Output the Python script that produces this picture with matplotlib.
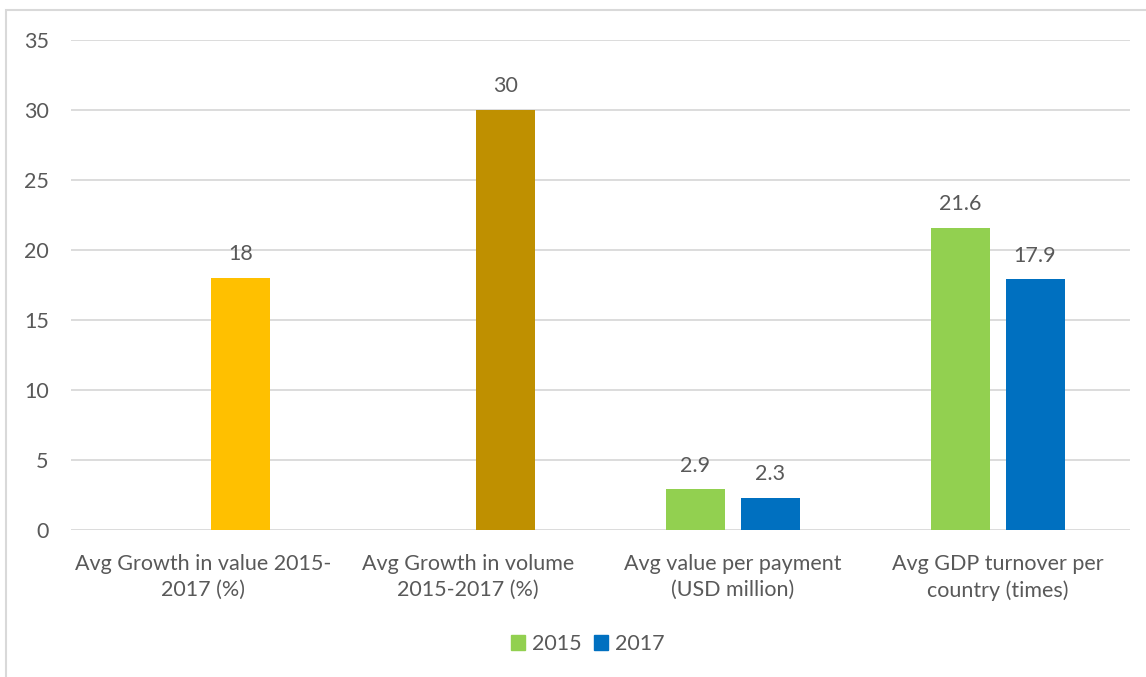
import matplotlib.pyplot as plt
import numpy as np
from matplotlib.patches import Rectangle, Patch

categories = ["Avg Growth in value 2015-\n2017 (%)",
              "Avg Growth in volume\n2015-2017 (%)",
              "Avg value per payment\n(USD million)",
              "Avg GDP turnover per\ncountry (times)"]
vals_2015 = [np.nan, np.nan, 2.9, 21.6]
vals_2017 = [18, 30, 2.3, 17.9]
colors_2017 = ["#FFC000", "#BF9000", "#0070C0", "#0070C0"]
color_2015 = "#92D050"
label_2015 = "2015"
label_2017 = "2017"

txt = "#595959"
grid = "#D9D9D9"
fs = 15.5
plt.rcParams['font.family'] = ['Lato', 'DejaVu Sans']

fig = plt.figure(figsize=(11.46, 6.77), dpi=100)
ax = fig.add_axes([71 / 1146, 147 / 677, (1130 - 71) / 1146, 490 / 677])

x = np.arange(len(categories))
w = 0.223
off = w / 2 + 0.03
b15 = ax.bar(x - off, vals_2015, w, color=color_2015)
b17 = ax.bar(x + off, vals_2017, w, color=colors_2017)

# value labels above the bars
for rects, vals in ((b15, vals_2015), (b17, vals_2017)):
    for r, v in zip(rects, vals):
        if np.isnan(v):
            continue
        ax.annotate(f"{v:g}", (r.get_x() + r.get_width() / 2, v),
                    xytext=(0, 10), textcoords="offset points",
                    ha="center", va="bottom", fontsize=fs, color=txt)

ax.set_xlim(-0.5, len(categories) - 0.5)
ax.set_ylim(0, 35)
ax.set_yticks(range(0, 36, 5))
ax.yaxis.grid(True, color=grid, lw=1.3)
ax.set_axisbelow(True)
for s in ax.spines.values():
    s.set_visible(False)
ax.tick_params(axis="both", length=0, labelsize=fs, labelcolor=txt)
ax.tick_params(axis="y", pad=16)
ax.tick_params(axis="x", pad=17)
ax.set_xticks(x)
ax.set_xticklabels(categories, linespacing=1.4)

handles = [Patch(color=color_2015), Patch(color="#0070C0")]
fig.legend(handles, [label_2015, label_2017], loc="center",
           bbox_to_anchor=(588 / 1146, 1 - 644 / 677), ncol=2, frameon=False,
           fontsize=fs, labelcolor=txt, handlelength=0.65, handleheight=0.65,
           handletextpad=0.3, columnspacing=0.6)

# chart border, partly outside the canvas
fig.patches.append(Rectangle((6 / 1146, -0.1), 1.2, 1.1 - 10 / 677,
                             transform=fig.transFigure, fill=False,
                             edgecolor=grid, lw=1.5))

fig.savefig("out.png", dpi=100)
